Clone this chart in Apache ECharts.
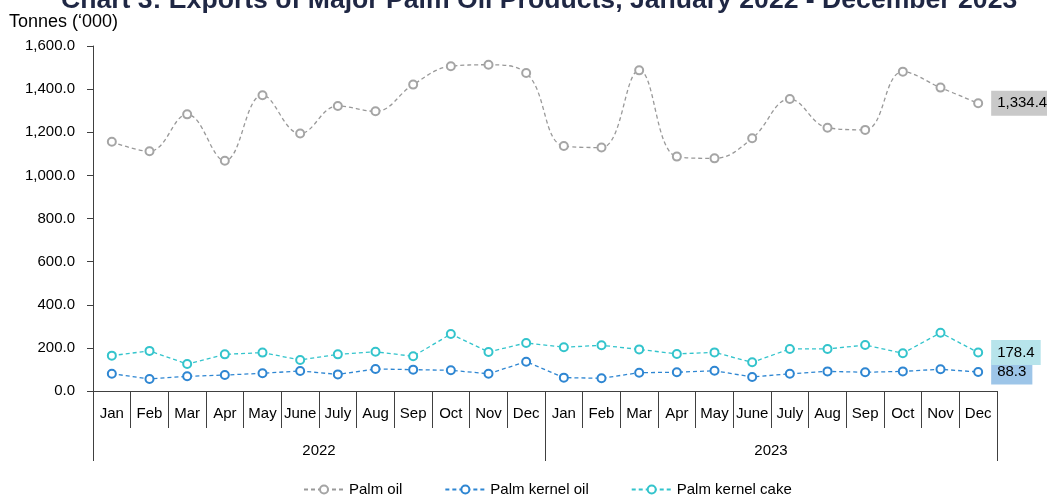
<!DOCTYPE html>
<html lang="en">
<head>
    <meta charset="UTF-8">
    <script src="https://cdn.jsdelivr.net/npm/echarts@6/dist/echarts.min.js"></script>
    <title>Exports of Major Palm Oil Products</title>
    <style>
        html,body{
            height:100%;
            width:100%;
            margin:0;
            padding:0;
            background:#fff;
        }
    </style>
</head>
<body>
    <div id="main" style="width:1047px;height:495px"></div>
    <script>
        var months = ['Jan','Feb','Mar','Apr','May','June','July','Aug','Sep','Oct','Nov','Dec',
                      'Jan','Feb','Mar','Apr','May','June','July','Aug','Sep','Oct','Nov','Dec'];
        var years = ['2022','2023'];

        // tonnes ('000)
        var palmOil = [1156,1112,1283,1068,1372,1194,1322,1297,1421,1506,1513,1475,
                       1136,1129,1487,1087,1079,1172,1354,1221,1211,1481,1407,1334.4];
        var palmKernelOil = [80,56,68,74,82,93,77,102,99,96,80,136,
                             62,59,85,87,94,65,80,91,87,91,101,88.3];
        var palmKernelCake = [164,186,125,170,178,144,170,182,161,264,181,223,
                              203,212,193,172,179,133,195,195,213,175,270,178.4];

        var font = 'Liberation Sans, Arial, sans-serif';
        var axisCol = '#404040';

        function fmt(v){
            return Number(v).toLocaleString('en-US',{minimumFractionDigits:1,maximumFractionDigits:1});
        }

        // only the last point gets a boxed value label
        function withLastLabel(values, bg, offset){
            return values.map(function(v, i){
                if (i !== values.length - 1) return v;
                return {
                    value: v,
                    label: {
                        show: true,
                        position: 'right',
                        distance: 8,
                        offset: offset || [0,0],
                        fontFamily: font,
                        fontSize: 15,
                        color: '#000',
                        backgroundColor: bg,
                        padding: [5,6,5,6],
                        formatter: function(p){ return fmt(p.value); }
                    }
                };
            });
        }

        function lineSeries(name, data, color, lineColor, smooth){
            return {
                name: name,
                type: 'line',
                data: data,
                xAxisIndex: 0,
                smooth: smooth,
                symbol: 'emptyCircle',
                symbolSize: 8,
                itemStyle: {color: color, borderWidth: 2},
                lineStyle: {color: lineColor, width: 1.3, type: [4,3]},
                label: {show: false},
                labelLayout: {hideOverlap: false},
                animation: false
            };
        }

        var myChart = echarts.init(document.getElementById('main'));
        var option = {
            textStyle: {fontFamily: font},
            graphic: [
                {type: 'text', left: 61, top: -13,
                 style: {text: 'Chart 3: Exports of Major Palm Oil Products, January 2022 - December 2023',
                         fontFamily: font, fontSize: 26.6, fontWeight: 'bold', fill: '#1f2744'}},
                {type: 'text', left: 9, top: 13,
                 style: {text: 'Tonnes (\u2018000)', fontFamily: font, fontSize: 18, fill: '#000'}}
            ],
            grid: {left: 93, right: 50, top: 46, bottom: 104, containLabel: false},
            legend: {
                left: 298,
                top: 477,
                itemWidth: 40,
                itemHeight: 10,
                itemGap: 42,
                textStyle: {fontFamily: font, fontSize: 15, color: '#000'},
                data: ['Palm oil','Palm kernel oil','Palm kernel cake']
            },
            xAxis: [
                {
                    type: 'category',
                    data: months,
                    position: 'bottom',
                    boundaryGap: true,
                    axisLine: {show: true, lineStyle: {color: axisCol, width: 1}},
                    axisTick: {show: true, interval: 0, length: 37, lineStyle: {color: axisCol}},
                    axisLabel: {interval: 0, margin: 15, fontSize: 15, color: '#000', fontFamily: font},
                    splitLine: {show: false}
                },
                {
                    type: 'category',
                    data: years,
                    position: 'bottom',
                    boundaryGap: true,
                    axisLine: {show: false},
                    axisTick: {show: true, interval: 0, length: 70, lineStyle: {color: axisCol}},
                    axisLabel: {interval: 0, margin: 52, fontSize: 15, color: '#000', fontFamily: font},
                    splitLine: {show: false}
                }
            ],
            yAxis: {
                type: 'value',
                min: 0,
                max: 1600,
                interval: 200,
                axisLine: {show: true, lineStyle: {color: axisCol}},
                axisTick: {show: true, length: 6, lineStyle: {color: axisCol}},
                axisLabel: {margin: 18, fontSize: 15, color: '#000', fontFamily: font, formatter: fmt},
                splitLine: {show: false}
            },
            series: [
                lineSeries('Palm oil', withLastLabel(palmOil, '#c9c9c9'), '#a5a5a5', '#999999', 0.4),
                lineSeries('Palm kernel oil', withLastLabel(palmKernelOil, '#9dc5e8', [0,2]), '#2e86d2', '#2e86d2', false),
                lineSeries('Palm kernel cake', withLastLabel(palmKernelCake, '#b7e4eb', [0,-6]), '#33c4cc', '#33c4cc', false)
            ]
        };
        myChart.setOption(option);
    </script>
</body>
</html>
